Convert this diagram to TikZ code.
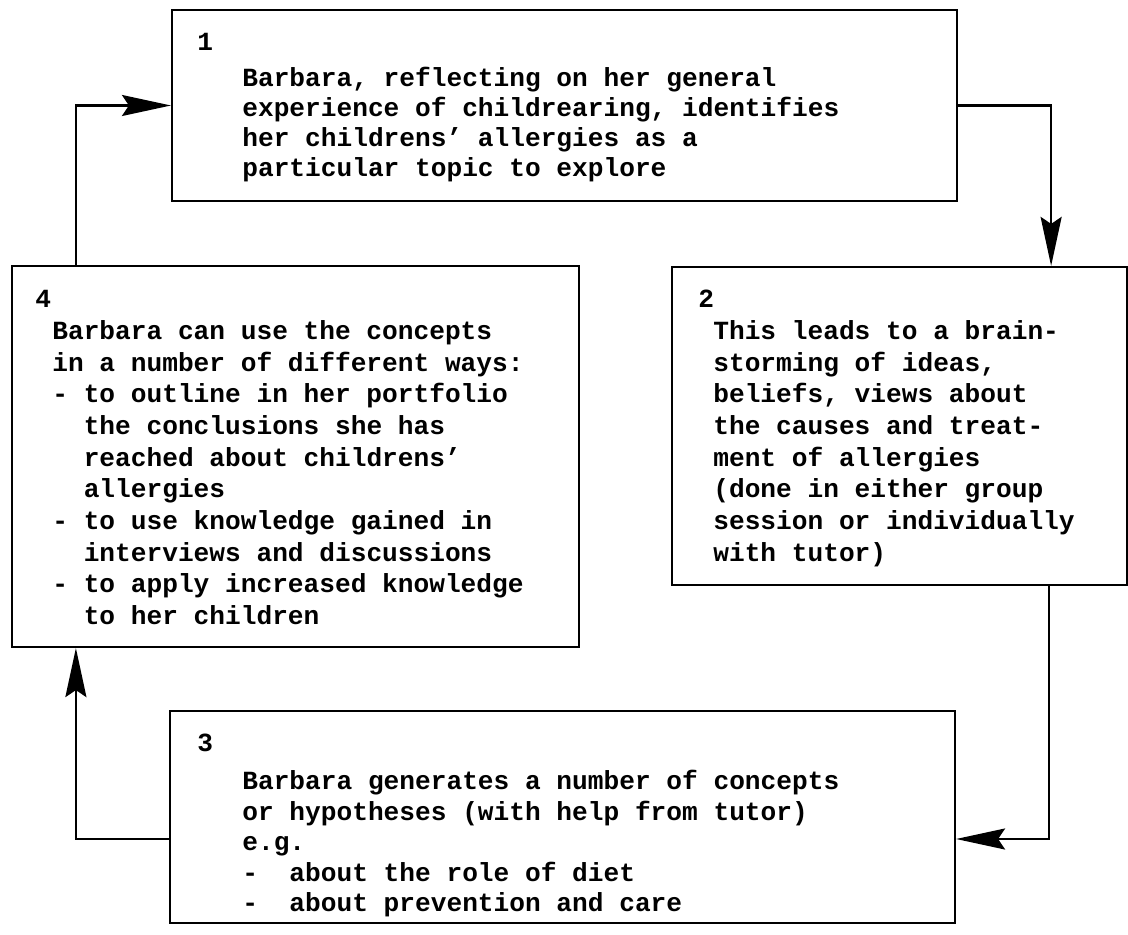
\documentclass[tikz,border=0pt]{standalone}
\usepackage{fontspec}
\setmonofont{Liberation Mono}
\usetikzlibrary{arrows.meta}

\begin{document}
\begin{tikzpicture}[
    x=0.02cm, y=-0.02cm,
    >={Stealth[length=0.98cm, width=0.42cm, inset=0.14cm]},
    box style/.style={draw, line width=1.3pt, inner sep=0pt},
    number style/.style={font=\ttfamily\bfseries\fontsize{14.9}{18}\selectfont, anchor=base west, inner sep=0pt},
    text style/.style={font=\ttfamily\bfseries\fontsize{14.9}{#1}\selectfont, align=left, anchor=north west, inner sep=0pt},
    flow style/.style={line width=1.3pt, ->}
]

% Frame of the picture
\useasboundingbox (0,0) rectangle (1128,935);

% Draw the four boxes
\node[box style, minimum width=15.70cm, minimum height=3.82cm] (b1) at (564.5,105.5) {};
\node[box style, minimum width=9.10cm, minimum height=6.36cm] (b2) at (899.5,426) {};
\node[box style, minimum width=15.70cm, minimum height=4.24cm] (b3) at (562.5,817) {};
\node[box style, minimum width=11.34cm, minimum height=7.62cm] (b4) at (295.5,456.5) {};

% Numbers of the steps
\node[number style] (n1) at (197,51) {1};
\node[number style] (n2) at (698,308) {2};
\node[number style] (n3) at (197,751) {3};
\node[number style] (n4) at (35,308) {4};

% Texts of the steps
\node[text style=17.1] (t1) at (242,67) {Barbara, reflecting on her general\\
experience of childrearing, identifies\\
her childrens’ allergies as a\\
particular topic to explore};
\node[text style=18.04] (t2) at (713,320) {This leads to a brain-\\
storming of ideas,\\
beliefs, views about\\
the causes and treat-\\
ment of allergies\\
(done in either group\\
session or individually\\
with tutor)};
\node[text style=17.4] (t3) at (242,770) {Barbara generates a number of concepts\\
or hypotheses (with help from tutor)\\
e.g.\\
-\ \ about the role of diet\\
-\ \ about prevention and care};
\node[text style=18.04] (t4) at (52,320) {Barbara can use the concepts\\
in a number of different ways:\\
- to outline in her portfolio\\
\phantom{- }the conclusions she has\\
\phantom{- }reached about childrens’\\
\phantom{- }allergies\\
- to use knowledge gained in\\
\phantom{- }interviews and discussions\\
- to apply increased knowledge\\
\phantom{- }to her children};

% Arrows between the boxes
\draw[flow style] ([xshift=1.3cm]b4.north west) |- (b1.west);
\draw[flow style] (b1.east) -| ([xshift=-1.54cm]b2.north east);
\draw[flow style] ([xshift=-1.58cm]b2.south east) |- ([yshift=-0.44cm]b3.east);
\draw[flow style] ([yshift=-0.44cm]b3.west) -| ([xshift=1.3cm]b4.south west);
\end{tikzpicture}
\end{document}
